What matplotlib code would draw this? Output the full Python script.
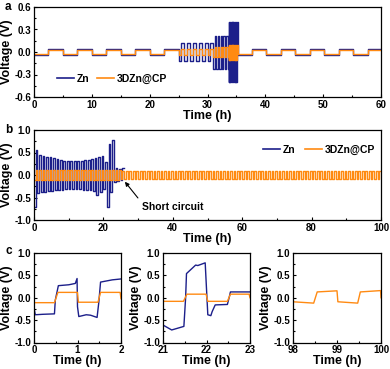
import numpy as np
import matplotlib
matplotlib.use("Agg")
import matplotlib.pyplot as plt
from matplotlib.ticker import MultipleLocator, FormatStrFormatter

plt.rcParams['font.family'] = ['Liberation Sans', 'DejaVu Sans']
plt.rcParams['font.weight'] = 'bold'
NARROW = ['Liberation Sans Narrow', 'Liberation Sans', 'DejaVu Sans']

ZN_COLOR = '#1c1f8a'
CP_COLOR = '#ff8a12'

# ---------------- Panel a: rate test segments ----------------
a_seg_start = [0, 25, 31, 33.7, 35.2]
a_seg_end = [25, 31, 33.7, 35.2, 60]
a_seg_half = [2.5, 0.5, 0.25, 0.04, 2.5]
a_zn_low = [-0.04, -0.12, -0.22, -0.40, -0.04]
a_zn_high = [0.035, 0.12, 0.22, 0.40, 0.035]
a_cp_low = [-0.025, -0.04, -0.07, -0.10, -0.025]
a_cp_high = [0.025, 0.04, 0.07, 0.10, 0.025]

# ---------------- Panel b: long cycling ----------------
b_zn_low = [-0.72, -0.40, -0.38, -0.37, -0.36, -0.35, -0.34, -0.33, -0.33, -0.32,
            -0.32, -0.32, -0.32, -0.32, -0.33, -0.33, -0.34, -0.36, -0.45, -0.38,
            -0.30, -0.72, -0.38, -0.15, -0.14, -0.12]
b_zn_high = [0.55, 0.45, 0.43, 0.41, 0.39, 0.37, 0.35, 0.33, 0.32, 0.31,
             0.31, 0.31, 0.31, 0.32, 0.33, 0.34, 0.35, 0.37, 0.40, 0.42,
             0.30, 0.70, 0.78, 0.15, 0.14, 0.16]
b_cp_seg_start = [0, 25]
b_cp_seg_end = [25, 100]
b_cp_amp = [0.12, 0.08]

# ---------------- Panel c: zoomed voltage profiles ----------------
c1_zn_t = [0.0, 0.03, 0.2, 0.47, 0.49, 0.56, 0.8, 0.95, 0.99, 1.0, 1.03, 1.2, 1.3, 1.45, 1.49, 1.53, 1.8, 2.0]
c1_zn_v = [-0.23, -0.38, -0.37, -0.36, -0.05, 0.27, 0.29, 0.32, 0.43, -0.2, -0.42, -0.38, -0.39, -0.44, -0.1, 0.35, 0.40, 0.42]
c1_cp_t = [0.0, 0.47, 0.55, 1.0, 1.02, 1.47, 1.53, 1.98, 2.0]
c1_cp_v = [-0.11, -0.11, 0.12, 0.12, -0.10, -0.10, 0.12, 0.12, -0.02]

c2_zn_t = [21.0, 21.2, 21.48, 21.52, 21.54, 21.75, 21.8, 21.97, 22.0, 22.03, 22.1, 22.13, 22.2, 22.48, 22.52, 22.55, 23.0]
c2_zn_v = [-0.61, -0.72, -0.64, 0.0, 0.54, 0.73, 0.72, 0.78, 0.2, -0.38, -0.40, -0.31, -0.16, -0.15, 0.0, 0.13, 0.13]
c2_cp_t = [21.0, 21.47, 21.55, 21.99, 22.03, 22.48, 22.55, 22.98, 23.0]
c2_cp_v = [-0.08, -0.08, 0.08, 0.08, -0.08, -0.08, 0.08, 0.08, 0.0]

c3_cp_t = [98.0, 98.47, 98.55, 99.0, 99.02, 99.47, 99.53, 99.99, 100.0]
c3_cp_v = [-0.09, -0.12, 0.13, 0.155, -0.09, -0.12, 0.13, 0.16, 0.0]


def square_segment(t0, t1, half, lo, hi):
    edges = list(np.arange(t0, t1, half)) + [t1]
    ts, vs = [], []
    for i in range(len(edges) - 1):
        val = lo if i % 2 == 0 else hi
        ts += [edges[i], edges[i + 1]]
        vs += [val, val]
    return ts, vs


def build_segments(starts, ends, halves, lows, highs):
    T, V = [], []
    for s, e, h, lo, hi in zip(starts, ends, halves, lows, highs):
        t, v = square_segment(s, e, h, lo, hi)
        T += t
        V += v
    return np.array(T), np.array(V)


def build_cycles(lows, highs, period=1.0):
    T, V = [], []
    for i, (lo, hi) in enumerate(zip(lows, highs)):
        t0 = i * period
        T += [t0, t0 + period / 2, t0 + period / 2, t0 + period]
        V += [lo, lo, hi, hi]
    return np.array(T), np.array(V)


fig = plt.figure(figsize=(3.9, 3.69), dpi=100)
W, H = 390.0, 369.0


def add_ax(l, r, t, b):
    return fig.add_axes([l / W, 1 - b / H, (r - l) / W, (b - t) / H])


def style(ax, xlabel='Time (h)', ylabel='Voltage (V)'):
    ax.tick_params(direction='in', which='both', labelsize=7, width=0.8,
                   pad=2, top=False, right=False)
    ax.tick_params(which='major', length=2.5)
    ax.tick_params(which='minor', length=1.5)
    for sp in ax.spines.values():
        sp.set_linewidth(0.9)
    ax.set_xlabel(xlabel, fontsize=9, fontweight='bold', labelpad=0, family=NARROW)
    ax.set_ylabel(ylabel, fontsize=9, fontweight='bold', labelpad=1)
    for lab in ax.get_xticklabels() + ax.get_yticklabels():
        lab.set_fontweight('bold')


# ---- a ----
axa = add_ax(34, 381, 7, 97)
ta, vza = build_segments(a_seg_start, a_seg_end, a_seg_half, a_zn_low, a_zn_high)
_, vca = build_segments(a_seg_start, a_seg_end, a_seg_half, a_cp_low, a_cp_high)
axa.plot(ta, vza, color=ZN_COLOR, lw=1.0, label='Zn')
axa.plot(ta, vca, color=CP_COLOR, lw=1.0, label='3DZn@CP')
axa.set_xlim(0, 60)
axa.set_ylim(-0.6, 0.6)
axa.xaxis.set_major_locator(MultipleLocator(10))
axa.xaxis.set_minor_locator(MultipleLocator(5))
axa.yaxis.set_major_locator(MultipleLocator(0.3))
axa.yaxis.set_minor_locator(MultipleLocator(0.15))
axa.yaxis.set_major_formatter(FormatStrFormatter('%.1f'))
style(axa)
leg = axa.legend(loc='lower left', bbox_to_anchor=(0.055, 0.1), ncol=2, frameon=False,
                 prop={'size': 7.5, 'weight': 'bold'}, handlelength=1.6, columnspacing=0.7,
                 handletextpad=0.3, borderaxespad=0)
for l in leg.get_lines():
    l.set_linewidth(1.2)
fig.text(5 / W, 1 - 7 / H, 'a', fontsize=8.5, fontweight='bold', va='center')

# ---- b ----
axb = add_ax(34, 381, 130, 220)
tb, vzb = build_cycles(b_zn_low, b_zn_high)
tcb, vcb = build_segments(b_cp_seg_start, b_cp_seg_end, [0.5, 0.5],
                          [-a for a in b_cp_amp], b_cp_amp)
axb.plot(tb, vzb, color=ZN_COLOR, lw=1.0, label='Zn')
axb.plot(tcb, vcb, color=CP_COLOR, lw=1.0, label='3DZn@CP')
axb.set_xlim(0, 100)
axb.set_ylim(-1.0, 1.0)
axb.xaxis.set_major_locator(MultipleLocator(20))
axb.xaxis.set_minor_locator(MultipleLocator(10))
axb.yaxis.set_major_locator(MultipleLocator(0.5))
axb.yaxis.set_minor_locator(MultipleLocator(0.25))
axb.yaxis.set_major_formatter(FormatStrFormatter('%.1f'))
style(axb)
leg = axb.legend(loc='upper right', bbox_to_anchor=(0.995, 0.88), ncol=2, frameon=False,
                 prop={'size': 7.5, 'weight': 'bold'}, handlelength=1.6, columnspacing=0.9,
                 handletextpad=0.3, borderaxespad=0)
for l in leg.get_lines():
    l.set_linewidth(1.2)
axb.annotate('Short circuit', xy=(26.2, -0.15), xytext=(31.0, -0.70),
             fontsize=7.5, fontweight='bold', ha='left', va='center',
             arrowprops=dict(arrowstyle='-|>', color='black', lw=0.8,
                             mutation_scale=6, shrinkA=1, shrinkB=0,
                             relpos=(0.0, 0.9)))
fig.text(5 / W, 1 - 130 / H, 'b', fontsize=8.5, fontweight='bold', va='center')

# ---- c ----
c_specs = [
    (34, 121, (0, 2), [0, 1, 2], c1_zn_t, c1_zn_v, c1_cp_t, c1_cp_v),
    (163, 250, (21, 23), [21, 22, 23], c2_zn_t, c2_zn_v, c2_cp_t, c2_cp_v),
    (293, 381, (98, 100), [98, 99, 100], None, None, c3_cp_t, c3_cp_v),
]
for l, r, xl, xt, zt, zv, ct, cv in c_specs:
    ax = add_ax(l, r, 253, 342.5)
    if zt is not None:
        ax.plot(zt, zv, color=ZN_COLOR, lw=1.0)
    ax.plot(ct, cv, color=CP_COLOR, lw=1.0)
    ax.set_xlim(*xl)
    ax.set_ylim(-1.0, 1.0)
    ax.set_xticks(xt)
    ax.xaxis.set_minor_locator(MultipleLocator(0.5))
    ax.yaxis.set_major_locator(MultipleLocator(0.5))
    ax.yaxis.set_minor_locator(MultipleLocator(0.25))
    ax.yaxis.set_major_formatter(FormatStrFormatter('%.1f'))
    style(ax)
fig.text(5 / W, 1 - 251 / H, 'c', fontsize=8.5, fontweight='bold', va='center')

fig.savefig('out.png', dpi=100)
